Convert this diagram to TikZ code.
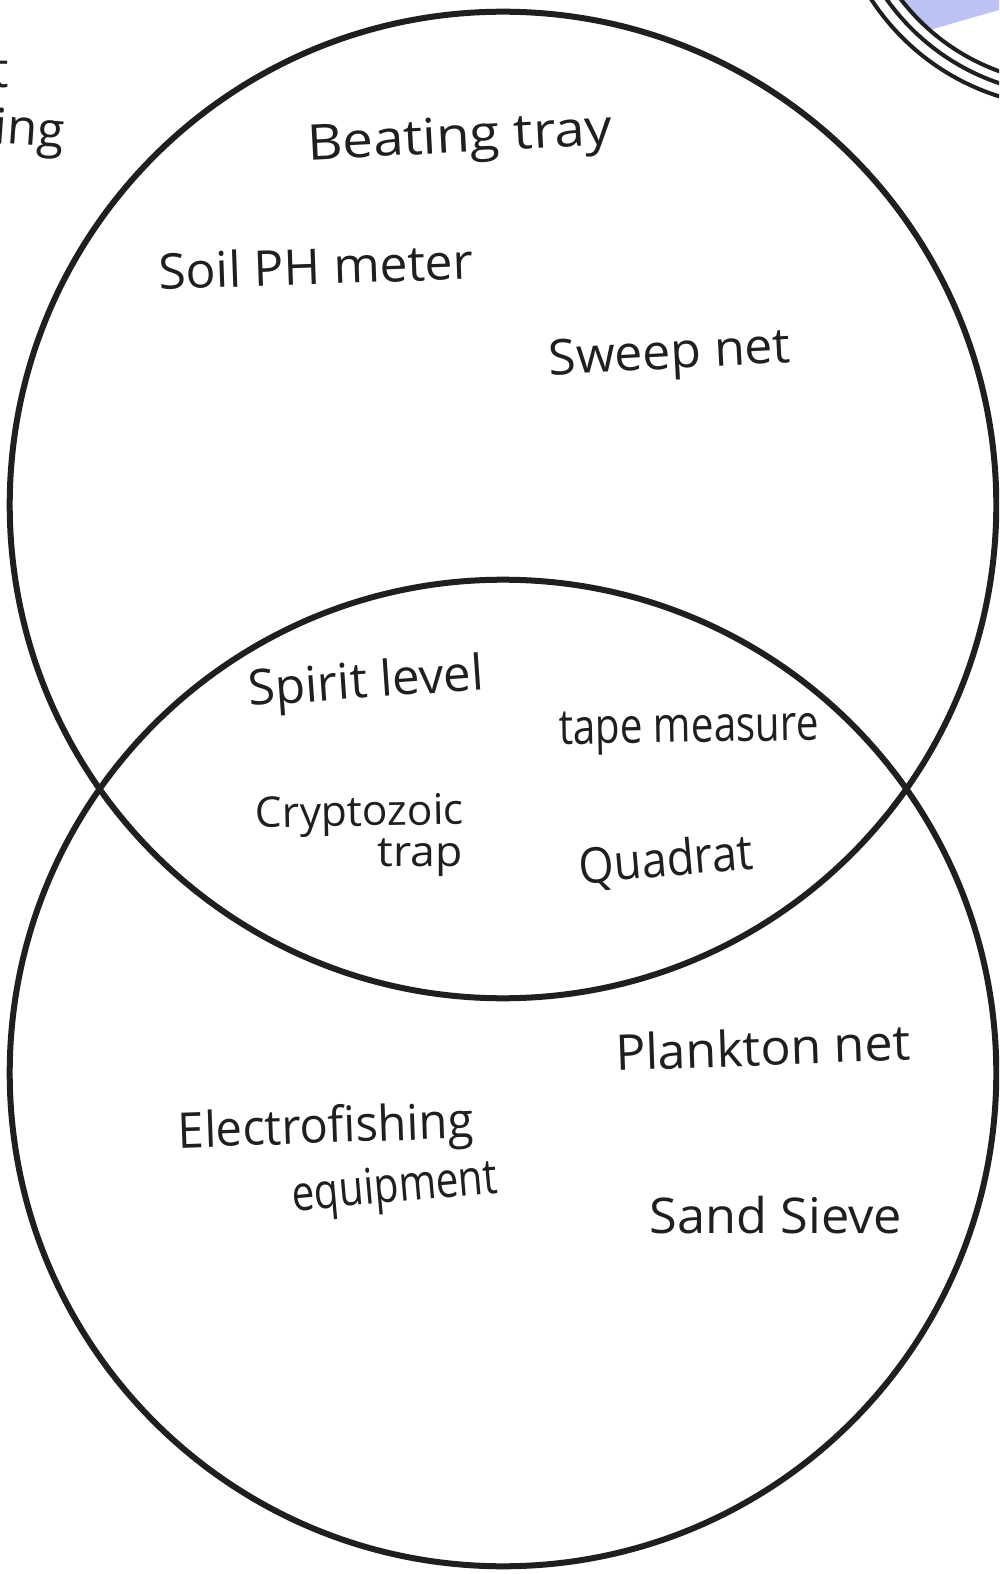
\documentclass[tikz,border=0pt]{standalone}
\usepackage{fontspec}
\usepackage{graphicx}
\setmainfont{Open Sans}
\definecolor{ink}{HTML}{1E2020}
\definecolor{lav}{HTML}{BCC3F2}
\newcommand{\handfont}{\fontsize{14}{17}\selectfont}
\newcommand{\smallhand}{\fontsize{12}{14}\selectfont}
% \hw{width}{text}: handwritten-style label stretched to a given width
\newcommand{\hw}[2]{\resizebox{#1}{\height}{\handfont #2}}
\newcommand{\hws}[2]{\resizebox{#1}{\height}{\smallhand #2}}
\begin{document}
\begin{tikzpicture}[x=0.01cm, y=-0.01cm,
  ring/.style={draw=ink, line width=0.06cm},
  thinring/.style={draw=ink, line width=0.04cm},
  label/.style={inner sep=0pt, text=ink, font=\handfont}]
\useasboundingbox (0,0) rectangle (999,1574);
\fill[white] (0,0) rectangle (999,1574);
\clip (0,0) rectangle (999,1574);

% partial disc in the upper right corner
\begin{scope}
  \clip (1073,-133) circle[radius=2.17cm];
  \fill[lav] (850,53) -- (999,10) -- (1020,-30) -- (850,-30) -- cycle;
\end{scope}
\draw[thinring] (1070,-130) circle[radius=2.37cm];
\draw[thinring] (1072,-132) circle[radius=2.27cm];
\draw[thinring] (1073,-133) circle[radius=2.17cm];

% word fragments at the left edge
\node[label, anchor=east] (fragA) at (10,72) {t};
\node[label, anchor=base east, rotate=-4] (fragB) at (64,148) {ying};

% the two sets
\node[ring, circle, minimum size=9.86cm, inner sep=0pt] (upper) at (503,505) {};
\node[ring, circle, minimum size=9.86cm, inner sep=0pt] (lower) at (503,1073) {};

% upper set only
\node[label, rotate=3] (beat) at (460,140) {\hw{3.05cm}{Beating tray}};
\node[label, rotate=2] (soil) at (316,266) {\hw{3.15cm}{Soil PH meter}};
\node[label, rotate=3] (sweep) at (670,357) {\hw{2.42cm}{Sweep net}};

% overlap
\node[label, rotate=4] (spirit) at (366,685) {\hw{2.36cm}{Spirit level}};
\node[label, rotate=1] (tape) at (689,732) {\hw{2.6cm}{tape measure}};
\node[label, anchor=base, rotate=1] (crypto) at (360,826) {\hws{2.08cm}{Cryptozoic}};
\node[label, anchor=base] (trap) at (420,866) {\hws{0.85cm}{trap}};
\node[label, rotate=5] (quad) at (666,862) {\hw{1.74cm}{Quadrat}};

% lower set only
\node[label, rotate=2] (plank) at (763,1047) {\hw{2.95cm}{Plankton net}};
\node[label, rotate=2] (electro) at (326,1130) {\hw{2.95cm}{Electrofishing}};
\node[label, rotate=5] (equip) at (395,1190) {\hw{2.06cm}{equipment}};
\node[label] (sand) at (776,1215) {\hw{2.52cm}{Sand Sieve}};
\end{tikzpicture}
\end{document}
